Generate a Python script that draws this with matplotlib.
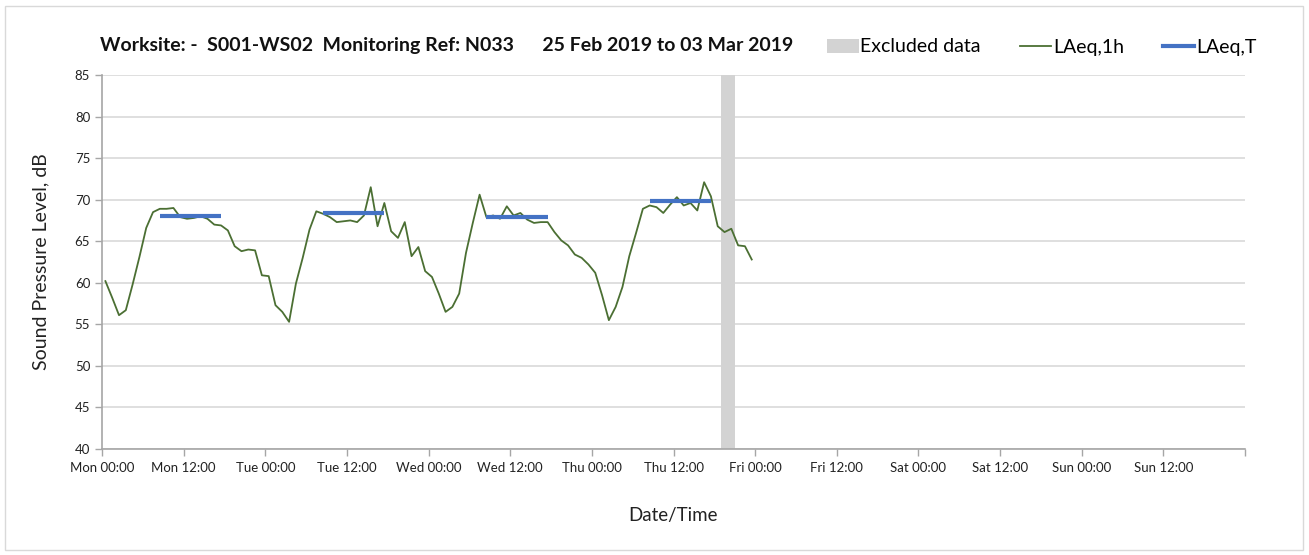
import numpy as np
import matplotlib
matplotlib.use("Agg")
import matplotlib.pyplot as plt
from matplotlib.patches import Patch, Rectangle
from matplotlib.lines import Line2D

# hourly LAeq,1h values (dB), Mon 00:00 -> Fri 00:00
mon = [60.2, 58.2, 56.1, 56.7, 59.8, 63.1, 66.6, 68.5, 68.9, 68.9, 69.0, 67.9,
       67.7, 67.8, 68.0, 67.7, 67.0, 66.9, 66.3, 64.4, 63.8, 64.0, 63.9, 60.9]
tue = [60.8, 57.3, 56.5, 55.3, 59.9, 63.0, 66.4, 68.6, 68.3, 67.9, 67.3, 67.4,
       67.5, 67.3, 68.1, 71.5, 66.8, 69.6, 66.2, 65.4, 67.3, 63.2, 64.3, 61.4]
wed = [60.7, 58.7, 56.5, 57.1, 58.7, 63.6, 67.2, 70.6, 67.9, 68.1, 67.7, 69.2,
       68.1, 68.4, 67.6, 67.2, 67.3, 67.3, 66.1, 65.1, 64.5, 63.4, 63.0, 62.2]
thu = [61.2, 58.5, 55.5, 57.1, 59.5, 63.2, 66.0, 68.9, 69.3, 69.1, 68.4, 69.4,
       70.3, 69.3, 69.6, 68.7, 72.1, 70.4, 66.8, 66.1, 66.5, 64.5, 64.4, 62.8]

# daytime LAeq,T (08:00-18:00) per day
laeq_t_days = [0, 1, 2, 3]
laeq_t_vals = [68.0, 68.4, 67.9, 69.8]
period_start, period_end = 8, 18

# excluded data window (hours from Mon 00:00)
excl_start, excl_end = 91, 93

tick_labels = ["Mon 00:00", "Mon 12:00", "Tue 00:00", "Tue 12:00", "Wed 00:00",
               "Wed 12:00", "Thu 00:00", "Thu 12:00", "Fri 00:00", "Fri 12:00",
               "Sat 00:00", "Sat 12:00", "Sun 00:00", "Sun 12:00", ""]

plt.rcParams['font.family'] = ['Lato', 'DejaVu Sans']

green = "#4b6f33"
blue = "#4472c4"
grid = "#d9d9d9"
axcol = "#a6a6a6"

fig = plt.figure(figsize=(13.09, 5.55), dpi=100)
ax = fig.add_axes([102 / 1309, 1 - 449 / 555, 1143 / 1309, 374 / 555])

# chart-area border
fig.patches.append(Rectangle((5 / 1309, 5 / 555), 1298 / 1309, 544 / 555,
                             transform=fig.transFigure, fill=False,
                             edgecolor="#d9d9d9", linewidth=1))

laeq_1h = np.array(mon + tue + wed + thu)
hours = np.arange(len(laeq_1h)) + 0.5

ax.axvspan(excl_start, excl_end, color="#d3d3d3", zorder=1, linewidth=0)
ax.plot(hours, laeq_1h, color=green, linewidth=1.3, zorder=3)
for d, v in zip(laeq_t_days, laeq_t_vals):
    ax.plot([d * 24 + period_start + 0.5, d * 24 + period_end - 0.5], [v, v],
            color=blue, linewidth=3, zorder=4, solid_capstyle="butt")

ax.set_xlim(0, 168)
ax.set_ylim(40, 85)
ax.set_yticks(np.arange(40, 86, 5))
ax.set_xticks(np.arange(0, 169, 12))
ax.set_xticklabels(tick_labels)
ax.set_xticks(np.arange(0, 169, 24), minor=True)

ax.grid(True, which="minor", axis="x", color=grid, linewidth=1.2, zorder=0)
ax.grid(True, which="major", axis="y", color=grid, linewidth=1.2, zorder=0)
ax.grid(False, which="major", axis="x")
ax.set_axisbelow(True)

for s in ["top", "right"]:
    ax.spines[s].set_visible(False)
for s in ["left", "bottom"]:
    ax.spines[s].set_color(axcol)
    ax.spines[s].set_linewidth(1.2)
ax.tick_params(axis="both", which="major", colors=axcol, labelcolor="#222222",
               labelsize=9.5, length=5, width=1)
ax.tick_params(axis="x", which="minor", length=5, color=axcol)
ax.tick_params(axis="x", pad=4)

ax.set_ylabel("Sound Pressure Level, dB", fontsize=14, color="#222222", labelpad=18)
ax.set_xlabel("Date/Time", fontsize=13.5, color="#222222", labelpad=24)

fig.text(100 / 1309, 1 - 45 / 555,
         "Worksite: -  S001-WS02  Monitoring Ref: N033      25 Feb 2019 to 03 Mar 2019",
         fontsize=14, fontweight="bold", va="center", ha="left", color="#111111")

handles = [Patch(facecolor="#d3d3d3", edgecolor="none"),
           Line2D([], [], color=green, linewidth=1.3),
           Line2D([], [], color=blue, linewidth=3)]
fig.legend(handles, ["Excluded data", "LAeq,1h", "LAeq,T"], ncol=3,
           loc="center right", bbox_to_anchor=(1264 / 1309, 1 - 47 / 555),
           frameon=False, fontsize=14, handlelength=1.6, handletextpad=0.1,
           columnspacing=2.0, borderaxespad=0)

fig.savefig("out.png", dpi=100, facecolor="white")
